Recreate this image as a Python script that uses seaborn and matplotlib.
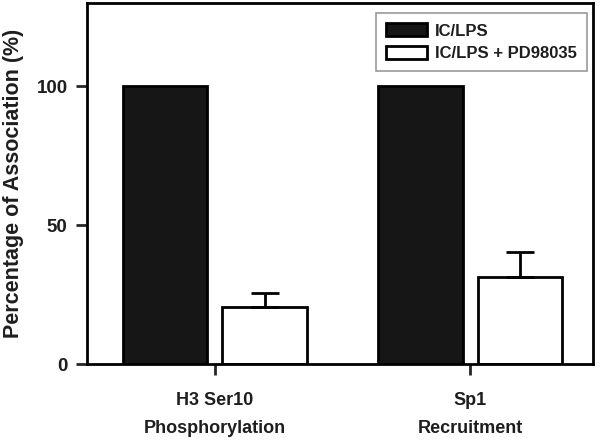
import matplotlib
matplotlib.use("Agg")
import numpy as np
import pandas as pd
import matplotlib.pyplot as plt
import seaborn as sns

# values
groups = ["H3 Ser10\nPhosphorylation", "Sp1\nRecruitment"]
treatments = ["IC/LPS", "IC/LPS + PD98035"]
ic_lps = [100, 100]
ic_lps_pd = [20.7, 31.4]
ic_lps_pd_err = [5.0, 8.8]

df = pd.DataFrame({
    "group": groups * 2,
    "treatment": [treatments[0]] * 2 + [treatments[1]] * 2,
    "value": ic_lps + ic_lps_pd,
})

sns.set_style("ticks")
plt.rcParams["font.family"] = ["Liberation Sans", "DejaVu Sans"]
plt.rcParams["font.weight"] = "bold"
txt = "#1e1e1e"

fig = plt.figure(figsize=(6, 4.41), dpi=100)
ax = fig.add_axes([0.145, 0.1746, 0.843, 0.8186])

sns.barplot(data=df, x="group", y="value", hue="treatment",
            palette=["#161616", "white"], edgecolor="black", linewidth=2,
            width=0.78, gap=0.15, errorbar=None, ax=ax)

# one-sided error bars on the treated bars
bars = ax.containers[1]
xs = [b.get_x() + b.get_width() / 2 for b in bars]
ax.errorbar(xs, ic_lps_pd, yerr=[np.zeros(len(ic_lps_pd_err)), ic_lps_pd_err],
            fmt="none", ecolor="black", elinewidth=2, capsize=10, capthick=2, zorder=3)

ax.set_ylim(0, 130)
ax.set_xlim(-0.5, 1.48)
ax.set_yticks([0, 50, 100])
ax.set_xlabel("")
ax.set_ylabel("Percentage of Association (%)", fontsize=15.5, fontweight="bold",
              color=txt, labelpad=9)

for s in ax.spines.values():
    s.set_visible(True)
    s.set_linewidth(2)
    s.set_color("black")

ax.tick_params(axis="both", direction="out", length=8, width=2, labelcolor=txt)
ax.tick_params(axis="y", pad=6, labelsize=13.5)
ax.tick_params(axis="x", pad=12, labelsize=13)
for t in ax.get_xticklabels():
    t.set_linespacing(1.87)

handles, labels = ax.get_legend_handles_labels()
leg = ax.legend(handles, labels, loc="upper right", bbox_to_anchor=(0.988, 0.972),
                borderaxespad=0, fontsize=12, handlelength=2.45, handleheight=0.85,
                handletextpad=0.5, borderpad=0.6, fancybox=False, framealpha=1,
                labelspacing=0.45)
leg.get_frame().set_edgecolor("#9a9a9a")
leg.get_frame().set_linewidth(1.2)
for t in leg.get_texts():
    t.set_color(txt)
    t.set_fontweight("bold")

fig.savefig("out.png", dpi=100)
